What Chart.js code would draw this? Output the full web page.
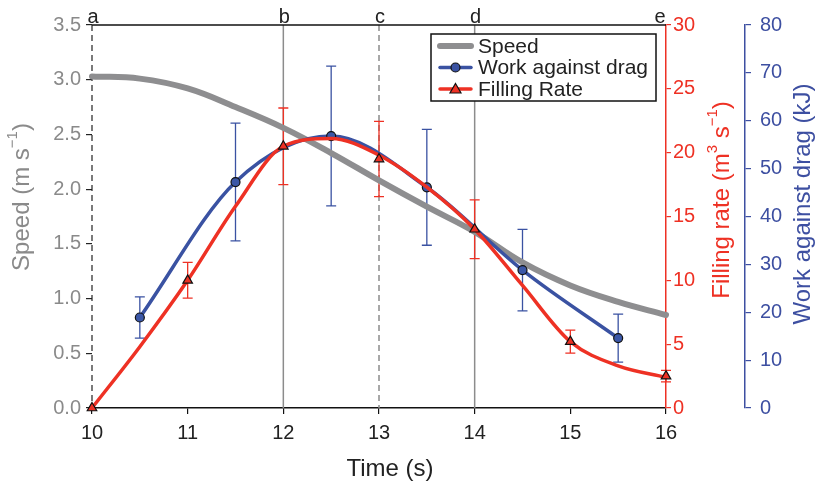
<!DOCTYPE html>
<html>
<head>
<meta charset="utf-8">
<script src="https://cdn.jsdelivr.net/npm/chart.js@4.4.1/dist/chart.umd.min.js"></script>
<style>
  html, body { margin: 0; padding: 0; background: #fff; }
  #wrap { width: 816px; height: 487px; }
</style>
</head>
<body>
<div id="wrap"><canvas id="chart" width="816" height="487"></canvas></div>
<script>
// values
const speedTimes = [10, 10.5, 11, 11.5, 12, 12.5, 13, 13.5, 14, 14.5, 15, 15.5, 16];
const speedValues = [3.03, 3.01, 2.92, 2.75, 2.56, 2.33, 2.08, 1.84, 1.61, 1.33, 1.12, 0.97, 0.85];

const workTimes = [10.5, 11.5, 12.5, 13.5, 14.5, 15.5];
const workValues = [18.9, 47.2, 56.8, 46.1, 28.8, 14.6];
const workErr = [4.3, 12.3, 14.6, 12.1, 8.5, 5.0];

const fillTimes = [10, 11, 12, 13, 14, 15, 16];
const fillValues = [0, 10.0, 20.5, 19.5, 14.0, 5.2, 2.5];
const fillErr = [0, 1.4, 3.0, 2.95, 2.3, 0.9, 0.45];

// fitted filling-rate curve
const fillCurveTimes = [10, 10.5, 11, 11.5, 12, 12.5, 13, 13.5, 14, 14.5, 15, 15.5, 16];
const fillCurveValues = [0, 4.8, 10.0, 15.8, 20.5, 21.1, 19.8, 17.3, 14.0, 9.6, 5.2, 3.3, 2.4];

// event markers along the top
const markerLabels = ['a', 'b', 'c', 'd', 'e'];
const markerTimes = [10, 12, 13, 14, 16];
const markerKinds = ['dashDark', 'solid', 'dash', 'solid', 'none'];

const FONT = "'Liberation Sans', Arial, Helvetica, sans-serif";
const GRAY = '#8e8e90';
const RED = '#ee3124';
const BLUE = '#3a52a2';
const BLUE_TXT = '#3d4fa1';

const pts = (xs, ys) => xs.map((t, i) => ({ x: t, y: ys[i] }));

function drawErr(ctx, xs, ys, ts, vals, errs, color) {
  ctx.strokeStyle = color;
  ctx.lineWidth = 1.3;
  ts.forEach((t, i) => {
    if (!errs[i]) return;
    const px = xs.getPixelForValue(t);
    const top = ys.getPixelForValue(vals[i] + errs[i]);
    const bot = ys.getPixelForValue(vals[i] - errs[i]);
    ctx.beginPath();
    ctx.moveTo(px, top); ctx.lineTo(px, bot);
    ctx.moveTo(px - 5, top); ctx.lineTo(px + 5, top);
    ctx.moveTo(px - 5, bot); ctx.lineTo(px + 5, bot);
    ctx.stroke();
  });
}

// text with superscripts, centred on (0,0) of current transform
function drawRich(ctx, parts, size, color) {
  const sup = Math.round(size * 0.62);
  let total = 0;
  parts.forEach(p => {
    ctx.font = (p[1] ? sup : size) + 'px ' + FONT;
    total += ctx.measureText(p[0]).width;
  });
  let cx = -total / 2;
  ctx.fillStyle = color;
  ctx.textAlign = 'left';
  ctx.textBaseline = 'middle';
  parts.forEach(p => {
    ctx.font = (p[1] ? sup : size) + 'px ' + FONT;
    ctx.fillText(p[0], cx, p[1] ? -size * 0.38 : 0);
    cx += ctx.measureText(p[0]).width;
  });
}

function vTitle(ctx, parts, x, y, size, color) {
  ctx.save();
  ctx.translate(x, y);
  ctx.rotate(-Math.PI / 2);
  drawRich(ctx, parts, size, color);
  ctx.restore();
}

const overlay = {
  id: 'overlay',
  beforeDatasetsDraw(chart) {
    const { ctx, chartArea: a, scales: { x, y1, y2 } } = chart;
    ctx.save();
    markerTimes.forEach((t, i) => {
      const kind = markerKinds[i];
      if (kind === 'none') return;
      const px = x.getPixelForValue(t);
      ctx.beginPath();
      ctx.lineWidth = kind === 'dashDark' ? 1.2 : 1.5;
      ctx.strokeStyle = kind === 'dashDark' ? '#222' : '#8c8c8c';
      ctx.setLineDash(kind === 'solid' ? [] : [6, 4]);
      ctx.moveTo(px, a.top); ctx.lineTo(px, a.bottom);
      ctx.stroke();
    });
    ctx.setLineDash([]);
    drawErr(ctx, x, y2, workTimes, workValues, workErr, BLUE);
    drawErr(ctx, x, y1, fillTimes, fillValues, fillErr, RED);
    ctx.restore();
  },
  afterDraw(chart) {
    const { ctx, chartArea: a, scales: { x } } = chart;
    ctx.save();
    // top frame line
    ctx.strokeStyle = '#111';
    ctx.lineWidth = 1.5;
    ctx.beginPath();
    ctx.moveTo(a.left, a.top); ctx.lineTo(a.right, a.top);
    ctx.stroke();

    // a..e labels
    ctx.font = '20px ' + FONT;
    ctx.fillStyle = '#222';
    ctx.textAlign = 'center';
    ctx.textBaseline = 'alphabetic';
    markerTimes.forEach((t, i) => {
      ctx.fillText(markerLabels[i], x.getPixelForValue(t) + (i === 4 ? -6 : 1), 23);
    });

    // axis titles
    vTitle(ctx, [['Speed (m s', false], ['\u22121', true], [')', false]], 22, 197, 24, '#8a8a8a');
    vTitle(ctx, [['Filling rate (m', false], ['3', true], [' s', false], ['\u22121', true], [')', false]], 722, 200, 24, RED);
    vTitle(ctx, [['Work against drag (kJ)', false]], 803, 204, 24, BLUE_TXT);
    ctx.save();
    ctx.translate(390, 469);
    drawRich(ctx, [['Time (s)', false]], 24, '#222');
    ctx.restore();

    // legend box
    const lx = 431, ly = 34, lw = 225, lh = 67;
    ctx.fillStyle = '#fff';
    ctx.fillRect(lx, ly, lw, lh);
    ctx.strokeStyle = '#111';
    ctx.lineWidth = 1.5;
    ctx.strokeRect(lx, ly, lw, lh);
    const rows = [
      { label: 'Speed', color: GRAY, width: 6, marker: null },
      { label: 'Work against drag', color: BLUE, width: 3.5, marker: 'circle' },
      { label: 'Filling Rate', color: RED, width: 3.5, marker: 'triangle' }
    ];
    rows.forEach((r, i) => {
      const cy = 46 + i * 21.5;
      ctx.beginPath();
      ctx.strokeStyle = r.color;
      ctx.lineWidth = r.width;
      ctx.lineCap = 'round';
      ctx.moveTo(440, cy); ctx.lineTo(471, cy);
      ctx.stroke();
      ctx.lineCap = 'butt';
      if (r.marker) {
        ctx.fillStyle = r.color;
        ctx.strokeStyle = '#111';
        ctx.lineWidth = 1.2;
        ctx.beginPath();
        if (r.marker === 'circle') {
          ctx.arc(455.5, cy, 4.5, 0, Math.PI * 2);
        } else {
          ctx.moveTo(455.5, cy - 5.5);
          ctx.lineTo(461, cy + 4);
          ctx.lineTo(450, cy + 4);
          ctx.closePath();
        }
        ctx.fill();
        ctx.stroke();
      }
      ctx.font = '21px ' + FONT;
      ctx.fillStyle = '#222';
      ctx.textAlign = 'left';
      ctx.textBaseline = 'middle';
      ctx.fillText(r.label, 478, cy + 1);
    });
    ctx.restore();
  }
};

const tickFont = { family: FONT, size: 20 };

new Chart(document.getElementById('chart'), {
  type: 'line',
  data: {
    datasets: [
      {
        label: 'Speed',
        data: pts(speedTimes, speedValues),
        yAxisID: 'y',
        borderColor: GRAY,
        borderWidth: 6,
        borderCapStyle: 'round',
        pointRadius: 0,
        tension: 0.4,
        order: 4
      },
      {
        label: 'Work against drag',
        data: pts(workTimes, workValues),
        yAxisID: 'y2',
        borderColor: BLUE,
        borderWidth: 3.5,
        pointRadius: 4.5,
        pointBackgroundColor: '#3b57a7',
        pointBorderColor: '#111',
        pointBorderWidth: 1.2,
        cubicInterpolationMode: 'monotone',
        order: 3
      },
      {
        label: 'Filling Rate fit',
        data: pts(fillCurveTimes, fillCurveValues),
        yAxisID: 'y1',
        borderColor: RED,
        borderWidth: 3.5,
        pointRadius: 0,
        cubicInterpolationMode: 'monotone',
        order: 2
      },
      {
        label: 'Filling Rate',
        data: pts(fillTimes, fillValues),
        yAxisID: 'y1',
        showLine: false,
        pointStyle: 'triangle',
        pointRadius: 5.5,
        pointBackgroundColor: RED,
        pointBorderColor: '#111',
        pointBorderWidth: 1.2,
        order: 1
      }
    ]
  },
  options: {
    responsive: false,
    animation: false,
    events: [],
    clip: false,
    layout: { padding: { top: 25, left: 0, right: 0, bottom: 0 } },
    plugins: { legend: { display: false }, tooltip: { enabled: false } },
    scales: {
      x: {
        type: 'linear', min: 10, max: 16,
        border: { color: '#111', width: 1.5 },
        grid: { drawOnChartArea: false, tickLength: 6, color: '#111', lineWidth: 1.2 },
        ticks: { stepSize: 1, color: '#222', font: tickFont, padding: 7 },
        afterFit(s) { s.height = 79; }
      },
      y: {
        position: 'left', min: 0, max: 3.5,
        border: { display: false },
        grid: { drawOnChartArea: false, tickLength: 6, color: '#222', lineWidth: 1.2 },
        ticks: { stepSize: 0.5, color: '#8a8a8a', font: tickFont, padding: 5, callback: v => v.toFixed(1) },
        afterFit(s) { s.width = 92; }
      },
      y1: {
        position: 'right', weight: 0, min: 0, max: 30,
        border: { color: RED, width: 1.5 },
        grid: { drawOnChartArea: false, tickLength: 5, color: RED, lineWidth: 1.2 },
        ticks: { stepSize: 5, color: RED, font: tickFont, padding: 2 },
        afterFit(s) { s.width = 79; }
      },
      y2: {
        position: 'right', weight: 1, min: 0, max: 80,
        border: { color: BLUE_TXT, width: 1.5 },
        grid: { drawOnChartArea: false, tickLength: 6, color: BLUE_TXT, lineWidth: 1.2 },
        ticks: { stepSize: 10, color: BLUE_TXT, font: tickFont, padding: 9 },
        afterFit(s) { s.width = 71; }
      }
    }
  },
  plugins: [overlay]
});
</script>
</body>
</html>
